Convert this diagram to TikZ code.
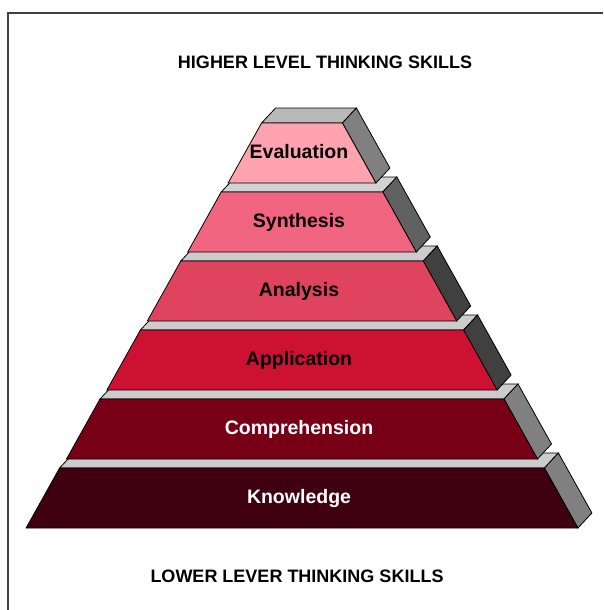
\documentclass[tikz,border=0pt]{standalone}
\usepackage{fontspec}
\setmainfont{Liberation Sans}
\definecolor{evalc}{HTML}{FFA3B1}
\definecolor{synthc}{HTML}{F26580}
\definecolor{analc}{HTML}{E0435E}
\definecolor{applc}{HTML}{CC1133}
\definecolor{comprc}{HTML}{770017}
\definecolor{knowc}{HTML}{3F0010}
\tikzset{
  face/.style={draw=black,line width=0.8pt,line join=miter},
  tierlabel/.style={anchor=base,font=\bfseries\fontsize{19.5}{22}\selectfont},
  levellabel/.style={anchor=base,font=\bfseries\fontsize{18}{21}\selectfont}
}
\begin{document}
\begin{tikzpicture}[x=1pt,y=-1pt]
  \useasboundingbox (0,0) rectangle (603,610);
  %% frame
  \draw[line width=2pt,black!75] (8,610) -- (8,13) -- (603,13);
  %% titles
  \node[levellabel] (higher) at (325,69) {HIGHER LEVEL THINKING SKILLS};
  \node[levellabel] (lower) at (297,582) {LOWER LEVER THINKING SKILLS};
  %% tiers, lowest one first
  \foreach \i/\name/\front/\side/\topc/\txt/\lab in {
      5/know/knowc/gray/gray!40/white/Knowledge,
      4/compr/comprc/gray/gray!40/white/Comprehension,
      3/appl/applc/black!75/gray!40/black/Application,
      2/anal/analc/black!75/gray!40/black/Analysis,
      1/synth/synthc/black!62/gray!35/black/Synthesis,
      0/eval/evalc/gray/gray!55/black/Evaluation} {
    \pgfmathsetmacro\yt{123+69*\i}
    \pgfmathsetmacro\yb{\yt+60}
    \pgfmathsetmacro\wt{40.4*(\i+1)}
    \pgfmathsetmacro\wb{\wt+33.5}
    %% top
    \draw[face,fill=\topc] (302-\wt,\yt) -- ++(14,-15) -- (316+\wt,\yt-15) -- (302+\wt,\yt) -- cycle;
    %% side
    \draw[face,fill=\side] (302+\wt,\yt) -- ++(14,-15) -- (316+\wb,\yb-15) -- (302+\wb,\yb) -- cycle;
    %% front
    \draw[face,fill=\front] (302-\wt,\yt) -- (302+\wt,\yt) -- (302+\wb,\yb) -- (302-\wb,\yb) -- cycle;
    \node[tierlabel,text=\txt] (\name) at (299,\yt+35) {\lab};
  }
\end{tikzpicture}
\end{document}
